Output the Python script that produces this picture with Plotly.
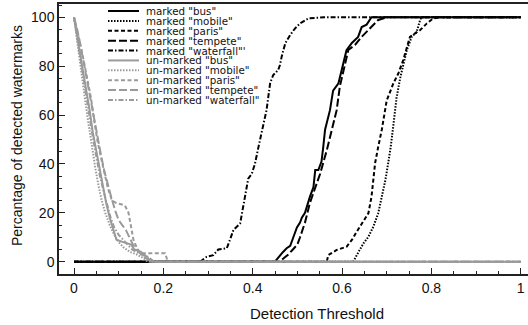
import plotly.graph_objects as go

# ---------------- data ----------------
m_bus_x = [0, 0.45, 0.454, 0.461, 0.468, 0.476, 0.484, 0.491, 0.499, 0.506, 0.51, 0.517, 0.521, 0.528, 0.536, 0.54, 0.547, 0.554, 0.558, 0.562, 0.573, 0.58, 0.592, 0.599, 0.61, 0.622, 0.636, 0.644, 0.655, 0.666, 1.0]
m_bus_y = [0, 0, 1, 2.7, 4, 5.5, 6.5, 10, 14, 16, 18, 20, 22.5, 26.5, 30.5, 37.5, 37.5, 41, 47, 54, 62, 70, 73, 78.5, 86.5, 89.5, 92, 96, 97, 100, 100]

m_mobile_x = [0, 0.625, 0.637, 0.648, 0.659, 0.670, 0.681, 0.689, 0.697, 0.703, 0.709, 0.715, 0.722, 0.730, 0.737, 0.745, 0.756, 0.767, 0.775, 0.778, 1.0]
m_mobile_y = [0, 0, 4, 7.5, 10.2, 14.3, 19.8, 26.6, 33.4, 40, 47, 56, 67, 75, 80, 86.6, 92, 94, 99, 100, 100]

m_paris_x = [0, 0.566, 0.569, 0.588, 0.61, 0.622, 0.633, 0.644, 0.659, 0.666, 0.670, 0.674, 0.681, 0.689, 0.7, 0.715, 0.726, 0.737, 0.752, 0.767, 0.775, 0.79, 0.804, 0.819, 1.0]
m_paris_y = [0, 0, 2.7, 4.8, 6.1, 8.9, 12.3, 15.7, 19.8, 26.6, 33.4, 40.3, 47, 54, 66, 73, 77, 82.5, 92, 94, 94.8, 97.5, 99.5, 100, 100]

m_tempete_x = [0, 0.46, 0.47, 0.48, 0.49, 0.5, 0.506, 0.517, 0.528, 0.54, 0.551, 0.566, 0.577, 0.588, 0.595, 0.605, 0.614, 0.629, 0.644, 0.659, 0.681, 0.7, 1.0]
m_tempete_y = [0, 0, 1.5, 3, 5, 7, 10, 16, 24, 30, 36, 45.7, 54, 62, 71.6, 80, 86.6, 88.7, 92, 94.8, 98.9, 100, 100]

m_waterfall_x = [0, 0.282, 0.297, 0.312, 0.323, 0.342, 0.349, 0.357, 0.372, 0.379, 0.387, 0.39, 0.398, 0.405, 0.413, 0.42, 0.431, 0.435, 0.439, 0.446, 0.457, 0.461, 0.465, 0.473, 0.484, 0.495, 0.506, 0.525, 0.56, 1.0]
m_waterfall_y = [0, 0, 2, 2.7, 5, 5.5, 8.9, 13, 15.7, 22.5, 30.7, 34, 36, 40, 47, 53, 62, 67.5, 73, 76.4, 78.4, 80.5, 84, 89.4, 92.8, 95.5, 97.5, 99.6, 100, 100]

u_bus_x = [0, 0.005, 0.012, 0.02, 0.028, 0.035, 0.042, 0.05, 0.058, 0.065, 0.072, 0.08, 0.088, 0.095, 0.11, 0.128, 0.135, 0.15, 0.163, 0.172, 1.0]
u_bus_y = [100, 95, 87, 78, 70, 62, 53, 45, 37, 30, 24, 18, 13, 9, 8, 7, 5, 4, 2, 0, 0]

u_mobile_x = [0, 0.005, 0.01, 0.018, 0.025, 0.032, 0.04, 0.048, 0.055, 0.062, 0.07, 0.08, 0.09, 0.1, 0.11, 0.125, 0.14, 0.155, 0.165, 1.0]
u_mobile_y = [100, 93, 85, 75, 66, 57, 47, 38, 31, 25, 20, 15, 11, 8, 6, 4, 3, 1.5, 0, 0]

u_paris_x = [0, 0.008, 0.015, 0.022, 0.03, 0.038, 0.045, 0.052, 0.06, 0.068, 0.076, 0.085, 0.095, 0.105, 0.114, 0.122, 0.128, 0.133, 0.14, 0.148, 0.175, 0.204, 0.21, 1.0]
u_paris_y = [100, 94, 88, 82, 75, 67, 58, 50, 43, 36, 30, 25, 24, 23.5, 23, 20, 14, 9, 6, 3.5, 3.5, 3.5, 0, 0]

u_tempete_x = [0, 0.006, 0.013, 0.02, 0.028, 0.036, 0.044, 0.052, 0.06, 0.068, 0.076, 0.084, 0.092, 0.1, 0.108, 0.116, 0.124, 0.132, 0.14, 0.15, 0.16, 0.175, 1.0]
u_tempete_y = [100, 96, 90, 83, 76, 68, 60, 52, 44, 37, 31, 26, 21, 17, 15, 13, 10, 7, 5, 3, 1.5, 0, 0]

u_waterfall_x = [0, 0.005, 0.012, 0.02, 0.027, 0.034, 0.042, 0.05, 0.058, 0.066, 0.074, 0.082, 0.09, 0.1, 0.11, 0.12, 0.13, 0.14, 0.15, 0.165, 0.18, 1.0]
u_waterfall_y = [100, 94, 86, 77, 68, 60, 51, 43, 35, 29, 23, 18, 14, 11, 9, 7, 5, 4, 3, 2, 0, 0]

labels = ['marked "bus"', 'marked "mobile"', 'marked "paris"', 'marked "tempete"', 'marked "waterfall"\'',
          'un-marked "bus"', 'un-marked "mobile"', 'un-marked "paris"', 'un-marked "tempete"', 'un-marked "waterfall"']

x_title = "Detection Threshold"
y_title = "Percantage of detected watermarks"

series = [(m_bus_x, m_bus_y), (m_mobile_x, m_mobile_y), (m_paris_x, m_paris_y),
          (m_tempete_x, m_tempete_y), (m_waterfall_x, m_waterfall_y),
          (u_bus_x, u_bus_y), (u_mobile_x, u_mobile_y), (u_paris_x, u_paris_y),
          (u_tempete_x, u_tempete_y), (u_waterfall_x, u_waterfall_y)]

BLACK = "#000000"
GRAY = "#9a9a9a"
dashes = ["solid", "1.5px,1.5px", "4px,2.5px", "8px,3px", "5px,2px,1.5px,2px"] * 2
colors = [BLACK] * 5 + [GRAY] * 5
widths = [2] * 10

fig = go.Figure()
for (xs, ys), lab, c, d, w in zip(series, labels, colors, dashes, widths):
    fig.add_trace(go.Scatter(x=xs, y=ys, mode="lines", name=lab, showlegend=False,
                             line=dict(color=c, dash=d, width=w)))

# ---------------- manual legend ----------------
L, R, T, B = 59, 528, 4, 274
def px2x(px):
    return (px - L) / (R - L)
def py2y(py):
    return (B - py) / (B - T)

for i, (lab, c, d, w) in enumerate(zip(labels, colors, dashes, widths)):
    py = 11 + 9.89 * i
    fig.add_shape(type="line", xref="paper", yref="paper",
                  x0=px2x(108), x1=px2x(139), y0=py2y(py), y1=py2y(py),
                  line=dict(color=c, dash=d, width=w))
    fig.add_annotation(xref="paper", yref="paper", x=px2x(145), y=py2y(py),
                       text=lab, showarrow=False, xanchor="left", yanchor="middle",
                       borderpad=0,
                       font=dict(size=10.3, color="#111111", family="DejaVu Sans"))

# axis titles
fig.add_annotation(xref="paper", yref="paper", x=px2x(317), y=py2y(313),
                   text=x_title, showarrow=False, xanchor="center", yanchor="middle",
                   font=dict(size=15, color="#111111"))
fig.add_annotation(xref="paper", yref="paper", x=px2x(17), y=py2y(136),
                   text=y_title, showarrow=False, xanchor="center", yanchor="middle",
                   textangle=-90, font=dict(size=14, color="#111111"))

axis_common = dict(showline=True, linecolor="#222222", linewidth=1.5, ticks="inside",
                   tickcolor="#222222", showgrid=False, zeroline=False,
                   tickfont=dict(size=14, color="#111111"))

fig.update_xaxes(range=[-0.0336, 1.0163], dtick=0.2, tick0=0, ticklen=6, tickwidth=1.3,
                 mirror=True,
                 minor=dict(dtick=0.05, tick0=0, ticklen=3, ticks="inside", tickcolor="#222222"),
                 **axis_common)
fig.update_yaxes(range=[-5.03, 105.44], dtick=20, tick0=0, ticklen=6, tickwidth=1.3,
                 minor=dict(dtick=5, tick0=0, ticklen=3, ticks="inside", tickcolor="#222222"),
                 **axis_common)

fig.update_layout(width=528, height=325, margin=dict(l=L, r=528 - R, t=T, b=325 - B),
                  plot_bgcolor="white", paper_bgcolor="white",
                  font=dict(family="Liberation Sans, Arial, sans-serif", color="#111111"),
                  showlegend=False)

fig.write_html("out.html")
